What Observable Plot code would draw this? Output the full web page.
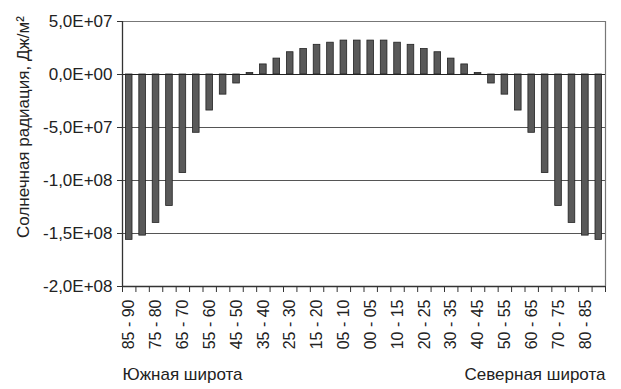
<!DOCTYPE html>
<html>
<head>
<meta charset="utf-8">
<script src="https://cdn.jsdelivr.net/npm/d3@7"></script>
<script src="https://cdn.jsdelivr.net/npm/@observablehq/plot@0.6"></script>
<style>
  html, body { margin: 0; padding: 0; background: #fff; }
  #chart svg { display: block; }
</style>
</head>
<body>
<div id="chart"></div>
<script>
// Latitude bands, south pole → equator → north pole
const categories = [
  "85 - 90","80 - 85","75 - 80","70 - 75","65 - 70","60 - 65","55 - 60","50 - 55","45 - 50",
  "40 - 45","35 - 40","30 - 35","25 - 30","20 - 25","15 - 20","10 - 15","05 - 10","00 - 05",
  "00 - 05","05 - 10","10 - 15","15 - 20","20 - 25","25 - 30","30 - 35","35 - 40","40 - 45",
  "45 - 50","50 - 55","55 - 60","60 - 65","65 - 70","70 - 75","75 - 80","80 - 85","85 - 90"
];
// Solar radiation balance, J/m²
const values = [
  -1.56e8,-1.52e8,-1.40e8,-1.24e8,-9.3e7,-5.5e7,-3.4e7,-1.9e7,-8.5e6,
  1.5e6,9.5e6,1.5e7,2.1e7,2.4e7,2.8e7,3.0e7,3.2e7,3.2e7,
  3.2e7,3.2e7,3.0e7,2.8e7,2.4e7,2.1e7,1.5e7,9.5e6,1.5e6,
  -8.5e6,-1.9e7,-3.4e7,-5.5e7,-9.3e7,-1.24e8,-1.40e8,-1.52e8,-1.56e8
];
const yTicks = [5e7, 0, -5e7, -1e8, -1.5e8, -2e8];
const yTitle = "Солнечная радиация, Дж/м²";
const southLabel = "Южная широта";
const northLabel = "Северная широта";

const data = categories.map((c, i) => ({i, c, v: values[i]}));

function sci(d) {
  if (d === 0) return "0,0E+00";
  const a = Math.abs(d);
  let e = Math.floor(Math.log10(a));
  let m = a / Math.pow(10, e);
  if (m >= 9.95) { m /= 10; e += 1; }
  return (d < 0 ? "-" : "") + m.toFixed(1).replace(".", ",") + "E" + (e >= 0 ? "+" : "-") + String(Math.abs(e)).padStart(2, "0");
}

const labelCenters = d3.range(0, categories.length, 2).map(i => i + 0.5);

const chart = Plot.plot({
  width: 621,
  height: 389,
  marginLeft: 122,
  marginRight: 16,
  marginTop: 21,
  marginBottom: 103,
  style: {fontFamily: "'Liberation Sans', Arial, sans-serif", fontSize: "17px", color: "#222", background: "#fff"},
  x: {domain: [0, categories.length], axis: null},
  y: {domain: [-2e8, 5e7], axis: null},
  marks: [
    // gridlines
    Plot.ruleY(yTicks.filter(t => t !== 0 && t !== -2e8 && t !== 5e7), {stroke: "#555", strokeWidth: 1}),
    Plot.ruleY([5e7], {stroke: "#777", strokeWidth: 1.2}),
    Plot.ruleX([categories.length], {stroke: "#777", strokeWidth: 1.2}),
    // bars
    Plot.rectY(data, {x1: d => d.i, x2: d => d.i + 1, y: "v", fill: "#595959", stroke: "#222", strokeWidth: 0.8, insetLeft: 3.4, insetRight: 3.4}),
    // zero line
    Plot.ruleY([0], {stroke: "#222", strokeWidth: 1.2}),
    // left & bottom axis lines
    Plot.ruleX([0], {stroke: "#333", strokeWidth: 1.3}),
    Plot.ruleY([-2e8], {stroke: "#333", strokeWidth: 1.3}),
    // y axis
    Plot.axisY({ticks: yTicks, tickFormat: sci, tickSize: 5, tickPadding: 5, stroke: "#333", fontSize: 17, label: null}),
    Plot.text([yTitle], {frameAnchor: "left", textAnchor: "middle", dx: -99, dy: -27, rotate: -90, fontSize: 17, fill: "#222"}),
    // x ticks at band boundaries
    Plot.axisX({ticks: d3.range(0, categories.length + 1), tickFormat: () => "", tickSize: 6, stroke: "#333", label: null}),
    // x labels
    Plot.axisX({ticks: labelCenters, tickFormat: t => categories[Math.floor(t)], tickSize: 0, tickPadding: 13, tickRotate: -90, fontSize: 16, label: null}),
    // hemisphere labels
    Plot.text([southLabel], {frameAnchor: "bottom-left", dy: 93, textAnchor: "start", fontSize: 17, fill: "#222"}),
    Plot.text([northLabel], {frameAnchor: "bottom-right", dy: 93, textAnchor: "end", fontSize: 17, fill: "#222"})
  ]
});
document.getElementById("chart").appendChild(chart);
</script>
</body>
</html>
